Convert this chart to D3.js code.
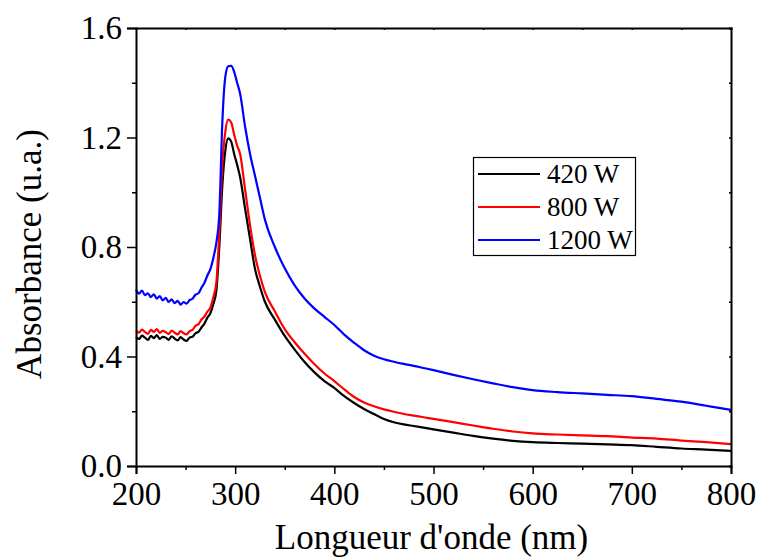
<!DOCTYPE html>
<html><head><meta charset="utf-8">
<script src="https://cdn.jsdelivr.net/npm/d3@7"></script>
<style>body{margin:0;background:#fff}svg{display:block}text{font-family:"Liberation Serif","Times New Roman",serif;fill:#000}</style>
</head><body><div id="chart"></div>
<script>
const wavelengths = [200,203,206,209,212,215,218,221,224,227,230,233,236,239,242,245,248,251,254,257,260,263,266,269,272,275,278,281,284,287,290,293,296,299,302,305,310,315,320,325,330,340,350,360,370,380,390,400,410,420,430,440,450,460,470,480,490,500,520,540,560,580,600,625,650,675,700,725,750,775,800];
const abs420 = [0.472,0.464,0.476,0.469,0.461,0.475,0.467,0.478,0.464,0.472,0.469,0.461,0.474,0.465,0.459,0.471,0.462,0.457,0.469,0.472,0.485,0.490,0.506,0.520,0.542,0.558,0.592,0.640,0.800,1.020,1.150,1.197,1.185,1.140,1.100,1.055,0.940,0.830,0.720,0.655,0.600,0.535,0.475,0.425,0.380,0.342,0.310,0.285,0.255,0.230,0.208,0.190,0.172,0.160,0.152,0.146,0.140,0.134,0.122,0.110,0.100,0.092,0.087,0.084,0.082,0.079,0.076,0.070,0.064,0.060,0.055];
const abs800 = [0.495,0.487,0.498,0.490,0.483,0.497,0.490,0.500,0.486,0.494,0.489,0.482,0.495,0.487,0.481,0.493,0.485,0.481,0.493,0.497,0.512,0.518,0.535,0.546,0.564,0.578,0.617,0.670,0.850,1.100,1.220,1.265,1.255,1.210,1.170,1.140,1.010,0.880,0.770,0.695,0.635,0.565,0.500,0.452,0.410,0.372,0.338,0.310,0.280,0.252,0.232,0.218,0.207,0.198,0.190,0.184,0.178,0.172,0.160,0.148,0.136,0.126,0.119,0.115,0.112,0.109,0.104,0.100,0.093,0.087,0.080];
const abs1200 = [0.645,0.630,0.641,0.624,0.631,0.617,0.627,0.611,0.621,0.605,0.614,0.599,0.609,0.595,0.603,0.589,0.599,0.593,0.606,0.611,0.626,0.631,0.651,0.669,0.696,0.719,0.760,0.815,0.920,1.250,1.420,1.460,1.462,1.440,1.400,1.360,1.240,1.140,1.060,0.980,0.900,0.800,0.722,0.660,0.612,0.575,0.545,0.515,0.480,0.450,0.423,0.403,0.390,0.381,0.373,0.366,0.358,0.350,0.333,0.317,0.302,0.288,0.277,0.270,0.265,0.260,0.255,0.245,0.235,0.220,0.205];
const seriesNames = ["420 W","800 W","1200 W"];
const seriesColors = ["#000000","#ff0000","#0000ff"];
const xTicks = [200,300,400,500,600,700,800];
const yTicks = [0.0,0.4,0.8,1.2,1.6];
const xTitle = "Longueur d'onde (nm)";
const yTitle = "Absorbance (u.a.)";

const W = 760, H = 557;
const m = {left:136, top:28, right:29, bottom:91};
const svg = d3.select("#chart").append("svg").attr("width",W).attr("height",H);
const x = d3.scaleLinear().domain([200,800]).range([m.left, W-m.right]);
const y = d3.scaleLinear().domain([0,1.6]).range([H-m.bottom, m.top]);

const series = [abs420, abs800, abs1200];
const line = d3.line().x((d,i)=>x(wavelengths[i])).y(d=>y(d)).curve(d3.curveMonotoneX);
series.forEach((s,k)=>{
  svg.append("path").datum(s).attr("d",line).attr("fill","none")
    .attr("stroke",seriesColors[k]).attr("stroke-width",2.2).attr("stroke-linejoin","round");
});

const fmtY = d3.format(".1f");
const xMinor = d3.range(250,800,100);
const yMinor = d3.range(0.2,1.6,0.4);
const gb = svg.append("g").attr("transform",`translate(0,${y(0)})`)
  .call(d3.axisBottom(x).tickValues(xTicks).tickFormat(d3.format("d")).tickSize(8).tickPadding(8));
gb.selectAll("text").attr("font-size",33);
svg.append("g").attr("transform",`translate(0,${y(0)})`)
  .call(d3.axisBottom(x).tickValues(xMinor).tickFormat("").tickSize(4)).select(".domain").remove();
const gl = svg.append("g").attr("transform",`translate(${x(200)},0)`)
  .call(d3.axisLeft(y).tickValues(yTicks).tickFormat(fmtY).tickSize(9).tickPadding(5));
gl.selectAll("text").attr("font-size",33);
svg.append("g").attr("transform",`translate(${x(200)},0)`)
  .call(d3.axisLeft(y).tickValues(yMinor).tickFormat("").tickSize(4)).select(".domain").remove();
svg.append("g").attr("transform",`translate(0,${y(1.6)})`)
  .call(d3.axisBottom(x).tickValues(xTicks.concat(xMinor)).tickFormat("").tickSize(2));
svg.append("g").attr("transform",`translate(${x(800)},0)`)
  .call(d3.axisLeft(y).tickValues(yTicks.concat(yMinor)).tickFormat("").tickSize(2));
svg.selectAll(".domain").attr("stroke-width",2).attr("stroke","#000");
svg.selectAll(".tick line").attr("stroke-width",1.5).attr("stroke","#000");
svg.selectAll("g").attr("font-family",null);

svg.append("text").attr("x",(x(200)+x(800))/2-2).attr("y",549).attr("text-anchor","middle")
  .attr("font-size",35).text(xTitle);
svg.append("text").attr("transform",`translate(41,254) rotate(-90)`)
  .attr("text-anchor","middle").attr("font-size",35).text(yTitle);

const lg = svg.append("g");
lg.append("rect").attr("x",473.5).attr("y",157.5).attr("width",162).attr("height",98)
  .attr("fill","#fff").attr("stroke","#000").attr("stroke-width",1.2);
seriesNames.forEach((n,k)=>{
  const yy = 174 + k*33;
  lg.append("line").attr("x1",478).attr("x2",540).attr("y1",yy).attr("y2",yy)
    .attr("stroke",seriesColors[k]).attr("stroke-width",2);
  lg.append("text").attr("x",547).attr("y",yy+9).attr("font-size",27).text(n);
});
</script></body></html>
